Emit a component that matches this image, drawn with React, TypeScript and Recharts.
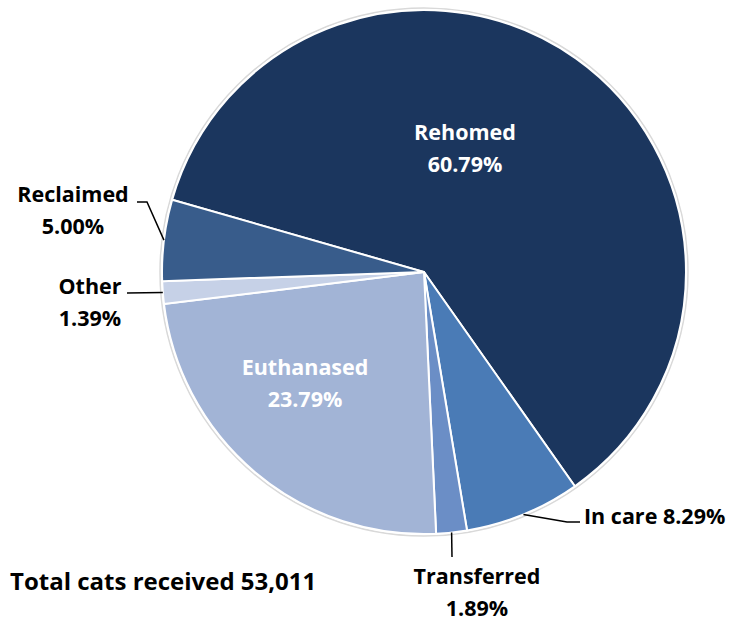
import React from 'react';
import { PieChart, Pie, Cell } from 'recharts';

// outcome categories, clockwise from the Rehomed slice
const names = ['Rehomed', 'In care', 'Transferred', 'Euthanased', 'Other', 'Reclaimed'];
// slice sizes as drawn (%)
const shares = [60.79, 7.14, 1.89, 23.79, 1.39, 5.0];
// percentage text printed on the chart
const pctLabels = ['60.79%', '8.29%', '1.89%', '23.79%', '1.39%', '5.00%'];
const colors = ['#1b365e', '#4a7bb6', '#6b8ec6', '#a2b4d6', '#c6d1e7', '#385c8b'];

const total = 'Total cats received 53,011';

const data = names.map((name, i) => ({ name, value: shares[i], pct: pctLabels[i] }));

const RAD = Math.PI / 180;
const FONT = '"Open Sans", Lato, sans-serif';

// label placement: text anchor, inside/outside, leader bends
const labelLayout: Record<string, any> = {
  Rehomed: { x: 465, y: 131, inside: true },
  Euthanased: { x: 305, y: 366, inside: true },
  'In care': { x: 584, y: 515, oneLine: true, leader: [[567, 522], [580, 522]] },
  Transferred: { x: 477, y: 575, leader: [[452, 557]] },
  Other: { x: 90, y: 285, leader: [[127, 293]] },
  Reclaimed: { x: 73, y: 193, leader: [[147, 202], [137, 202]] },
};

const renderLabel = (props: any) => {
  const { cx, cy, midAngle, outerRadius, name, payload } = props;
  const l = labelLayout[name];
  if (!l) return null;
  const pct = payload?.pct ?? props.pct;
  const fill = l.inside ? '#ffffff' : '#000000';
  const txtStyle = { fontFamily: FONT, fontWeight: 700, fontSize: 21.5 } as React.CSSProperties;
  let leader = null;
  if (l.leader) {
    const ex = cx + outerRadius * Math.cos(-midAngle * RAD);
    const ey = cy + outerRadius * Math.sin(-midAngle * RAD);
    const pts = [[ex, ey], ...l.leader].map((p: number[]) => p.join(',')).join(' ');
    leader = <polyline points={pts} fill="none" stroke="#000" strokeWidth={1.5} />;
  }
  if (l.oneLine) {
    return (
      <g>
        {leader}
        <text x={l.x} y={l.y} fill={fill} textAnchor="start" dominantBaseline="central" style={txtStyle}>
          {name} {pct}
        </text>
      </g>
    );
  }
  return (
    <g>
      {leader}
      <text x={l.x} y={l.y} fill={fill} textAnchor="middle" dominantBaseline="central" style={txtStyle}>
        {name}
      </text>
      <text x={l.x} y={l.y + 32} fill={fill} textAnchor="middle" dominantBaseline="central" style={txtStyle}>
        {pct}
      </text>
    </g>
  );
};

export default function App() {
  return (
    <div style={{ position: 'absolute', left: 0, top: 0, width: 734, height: 622, background: '#fff' }}>
      <PieChart width={734} height={622} margin={{ top: 0, right: 0, bottom: 0, left: 0 }}>
        <circle cx={424} cy={272} r={264} fill="none" stroke="#d9d9d9" strokeWidth={1.5} />
        <Pie
          data={data}
          dataKey="value"
          nameKey="name"
          cx={424}
          cy={272}
          outerRadius={262}
          startAngle={164}
          endAngle={-196}
          stroke="#ffffff"
          strokeWidth={2}
          label={renderLabel}
          labelLine={false}
          isAnimationActive={false}
        >
          {data.map((d, i) => (
            <Cell key={d.name} fill={colors[i]} />
          ))}
        </Pie>
        <text x={10} y={580} dominantBaseline="central" style={{ fontFamily: FONT, fontWeight: 700, fontSize: 24 }}>
          {total}
        </text>
      </PieChart>
    </div>
  );
}
